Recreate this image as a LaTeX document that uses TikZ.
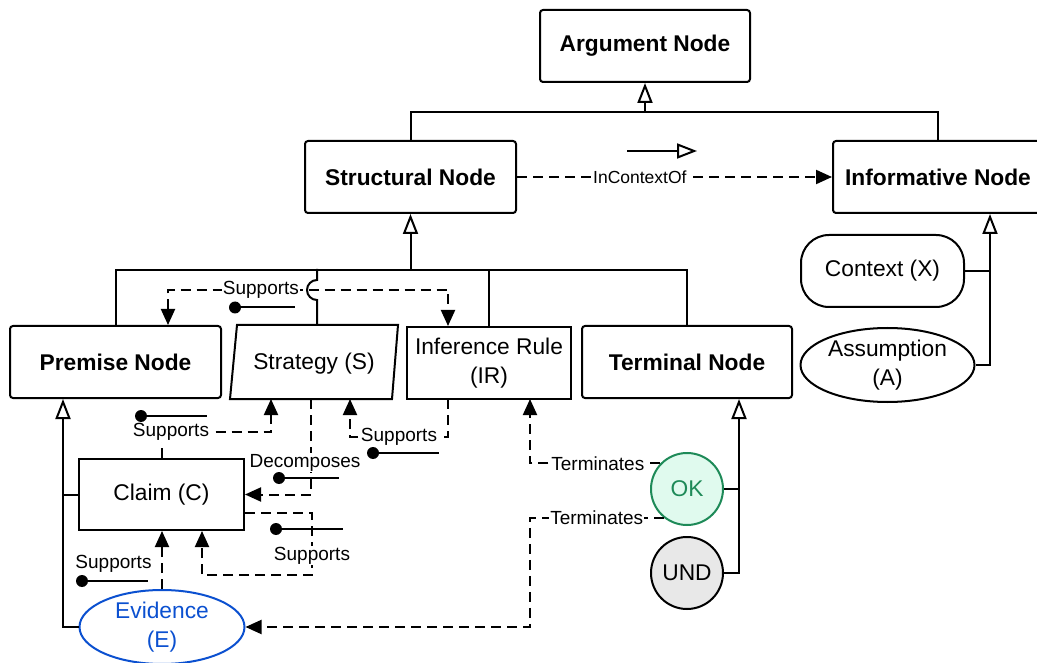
\documentclass[tikz,border=0pt]{standalone}
\usepackage{fontspec}
\setmainfont{Liberation Sans}
\usetikzlibrary{arrows.meta,shapes.geometric,calc}

\definecolor{evblue}{HTML}{0B50D0}
\definecolor{okgreen}{HTML}{1E8A58}
\definecolor{okfill}{HTML}{E0FAEE}
\definecolor{undfill}{HTML}{E8E8E8}

\tikzset{
  boxbase/.style={draw, minimum height=72pt, inner sep=2pt,
    align=center, font=\fontsize{22.75}{28.5}\selectfont},
  keynode/.style={boxbase, rounded corners=3pt, font=\fontsize{22.75}{28.5}\selectfont\bfseries},
  plainbox/.style={boxbase},
  ovalnode/.style={boxbase, ellipse, inner sep=0pt},
  roundnode/.style={boxbase, circle, minimum size=72pt, minimum height=72pt, inner sep=0pt},
  lbl/.style={fill=white, inner sep=1pt, font=\fontsize{19}{22}\selectfont},
  smalllbl/.style={fill=white, inner sep=1pt, font=\fontsize{17.5}{20}\selectfont},
  dashedge/.style={dash pattern=on 10pt off 6pt},
  tipfilled/.style={-{Triangle[length=16pt,width=14pt]}},
  tipopen/.style={-{Triangle[open,length=20pt,width=15pt,fill=white]}},
}
% direction marker: a dot with a short tail
\newcommand{\balltick}[3]{%
  \fill (#1,#3) circle[radius=6pt];
  \draw (#1,#3) -- (#2,#3);}

\begin{document}
\begin{tikzpicture}[x=1pt,y=-1pt,line width=2pt]
\useasboundingbox (0,0) rectangle (1037,663);

% ---------- nodes ----------
\node[keynode, minimum width=210pt] (arg) at (645,46) {Argument Node};
\node[keynode, minimum width=211pt] (struct) at (410.5,177) {Structural Node};
\node[keynode, minimum width=210pt] (info) at (938,177) {Informative Node};

\node[keynode, minimum width=211pt] (premise) at (115.5,362) {Premise Node};
\node[boxbase, draw=none, minimum width=160pt] (strategy) at (314,364) {Strategy (S)};
\draw ([xshift=4pt,yshift=2pt]strategy.north west) -- ([xshift=3pt,yshift=2pt]strategy.north east)
   -- ([xshift=-3pt,yshift=2pt]strategy.south east) -- ([xshift=-3pt,yshift=2pt]strategy.south west) -- cycle;
\node[plainbox, minimum width=164pt] (ir) at (489,363) {Inference Rule\\(IR)};
\node[keynode, minimum width=210pt] (terminal) at (687,362) {Terminal Node};

\node[boxbase, rounded corners=28pt, minimum width=163pt] (context) at (882.5,271) {Context (X)};
\node[ovalnode, minimum width=174pt, minimum height=74pt] (assumption) at (887.5,365) {Assumption\\(A)};

\node[plainbox, minimum width=165pt, minimum height=71pt] (claim) at (161.5,494.5) {Claim (C)};
\node[ovalnode, draw=evblue, text=evblue, minimum width=165pt, minimum height=74pt] (evidence) at (162,627) {Evidence\\(E)};

\node[roundnode, draw=okgreen, fill=okfill, text=okgreen] (ok) at (687,489) {OK};
\node[roundnode, fill=undfill] (und) at (687,573) {UND};

% ---------- generalisation links ----------
\coordinate (jA) at (645,112);
\draw (struct.north) |- (jA) -| (info.north);
\draw[tipopen] (jA) -- (arg.south);

\coordinate (jS) at (410.5,270);
\draw[tipopen] (jS) -- (struct.south);
\draw (premise.north) |- (jS) -| (terminal.north);
\draw (ir.north) -- (ir.north |- jS);

% ---------- InContextOf ----------
\draw[dashedge, tipfilled] (struct.east) -- node[smalllbl, pos=0.39]{InContextOf} (info.west);
\draw[tipopen] (627,151) -- (697,151);

% ---------- Supports between premise and inference rule ----------
\draw[dashedge, {Triangle[length=16pt,width=14pt]}-{Triangle[length=16pt,width=14pt]}]
  ([xshift=52.5pt]premise.north) -- ++(0,-35)
  -| node[lbl, pos=0.166]{Supports} ([xshift=-41pt]ir.north);
\balltick{235}{295}{307.5}

% strategy link with a hop over the dashed connector
\draw (premise.north -| strategy.north) ++(3,0) -- ++(0,-25)
  arc[start angle=270, end angle=90, radius=10pt] -- ++(0,-11);

% ---------- claim / strategy / inference rule ----------
\draw[dashedge, tipfilled] (claim.north) -- ++(0,-26) node[lbl, xshift=9.5pt]{Supports}
  -| ([xshift=-43pt]premise.south -| strategy.south);
\balltick{141}{207}{416}

\draw[dashedge, tipfilled] ([xshift=-3pt]premise.south -| strategy.south)
  |- node[lbl, pos=0.333, xshift=-6pt]{Decomposes} (claim.east);
\balltick{279}{339}{478}

\draw[dashedge, tipfilled] ([xshift=-41pt]premise.south -| ir.south) -- ++(0,38)
  -| node[lbl, pos=0.25]{Supports} ([xshift=36pt]premise.south -| strategy.south);
\balltick{373}{439}{453}

\draw[dashedge, tipfilled] ([yshift=-18.5pt]claim.east) -- ++(67,0)
  -- ++(0,62) node[lbl, pos=0.69]{Supports}
  -| ([xshift=40.5pt]claim.south);
\balltick{276}{343}{529}

\draw[dashedge, tipfilled] (evidence.north)
  -- node[lbl, pos=0.43, xshift=-48.5pt]{Supports} (evidence.north |- claim.south);
\balltick{82}{148}{581}

% ---------- terminations ----------
\draw[dashedge, tipfilled] (ok.136) -| node[lbl, pos=0.24]{Terminates} ([xshift=41pt]premise.south -| ir.south);
\draw[dashedge, tipfilled] (ok.231) -- node[lbl, pos=0.5]{Terminates} ++(-134,0) |- (evidence.east);

% ---------- generalisation of leaves ----------
\draw[tipopen] (und.east) -| ([xshift=52pt]terminal.south);
\draw (ok.east) -- ++(16,0);

\draw[tipopen] (assumption.east) -| ([xshift=52pt]info.south);
\draw (context.east) -- ++(26,0);

\draw[tipopen] (evidence.west) -| ([xshift=-52.5pt]premise.south);
\draw (claim.west) -- ++(-16,0);
\end{tikzpicture}
\end{document}
